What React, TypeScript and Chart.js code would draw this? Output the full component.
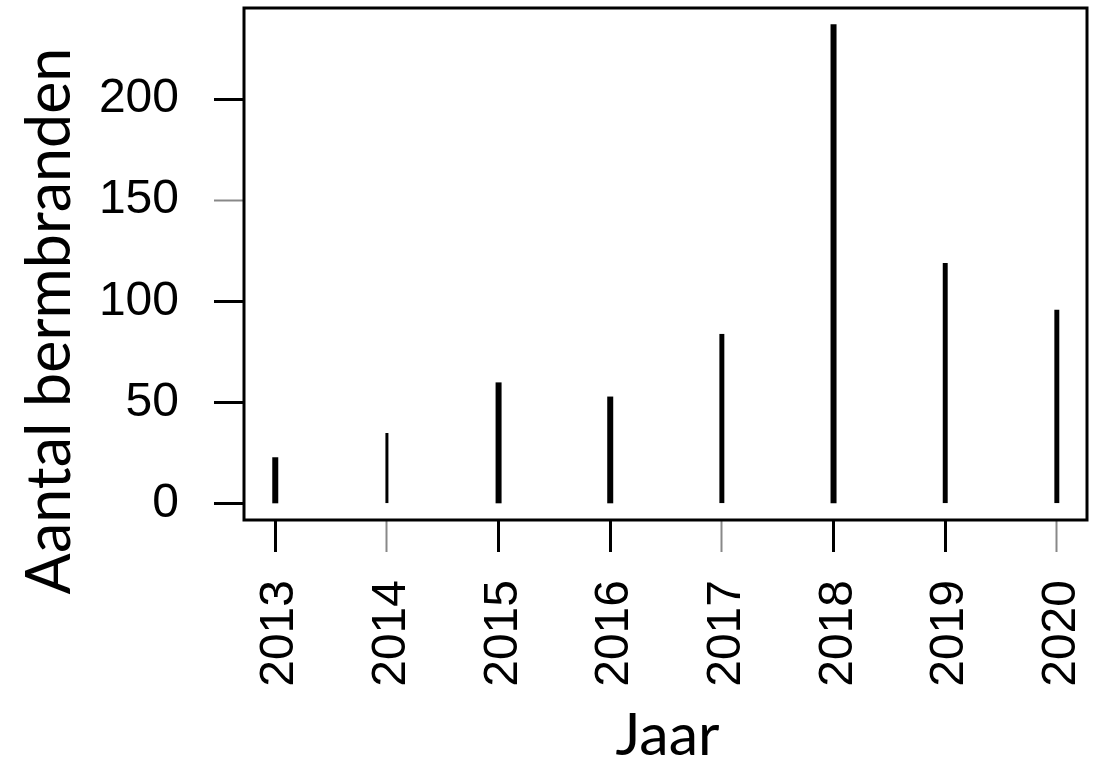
import React, { useEffect, useRef } from "react";
import { Chart, registerables } from "chart.js";

Chart.register(...registerables);

const years = [2013, 2014, 2015, 2016, 2017, 2018, 2019, 2020];
const fires = [23, 35, 60, 53, 84, 237, 119, 96];
const yTickValues = [0, 50, 100, 150, 200];
const xTitle = "Jaar";
const yTitle = "Aantal bermbranden";

const BAR_WIDTHS = [6, 3, 6, 6, 5, 6, 5, 5];
const GRAY_X = [2014, 2017, 2020];
const GRAY_Y = [150];

const boxAndTitles = {
  id: "boxAndTitles",
  afterDraw(chart: any) {
    const { ctx, chartArea } = chart;
    const { left, top, right, bottom } = chartArea;
    ctx.save();
    ctx.strokeStyle = "#000";
    ctx.lineWidth = 3;
    ctx.strokeRect(left, top, right - left, bottom - top);

    ctx.fillStyle = "#000";
    ctx.textAlign = "center";
    ctx.textBaseline = "alphabetic";
    ctx.font = "59px Lato";
    ctx.fillText(xTitle, (left + right) / 2 + 2, 755);

    ctx.font = "61px Lato";
    ctx.translate(70, 321);
    ctx.rotate(-Math.PI / 2);
    ctx.fillText(yTitle, 0, 0);
    ctx.restore();
  },
};

const zeroPad = (s: any) => {
  s.paddingTop = 0;
  s.paddingBottom = 0;
  s.paddingLeft = 0;
  s.paddingRight = 0;
};

export default function App() {
  const ref = useRef<HTMLCanvasElement | null>(null);

  useEffect(() => {
    if (!ref.current) return;
    const chart = new Chart(ref.current, {
      type: "bar",
      data: {
        datasets: [
          {
            data: years.map((y, i) => ({ x: y, y: fires[i] })),
            backgroundColor: "#000",
            borderColor: "#fff",
            borderWidth: (c: any) => {
              const w = BAR_WIDTHS[c.dataIndex] ?? 6;
              const s = (6 - w) / 2;
              return { left: s, right: s, top: 0, bottom: 0 };
            },
            borderSkipped: false,
            barThickness: 6,
            inflateAmount: 0,
          } as any,
        ],
      },
      options: {
        responsive: false,
        animation: false,
        devicePixelRatio: 1,
        layout: { padding: { top: 8, right: 14, left: 0, bottom: 0 } },
        plugins: {
          legend: { display: false },
          tooltip: { enabled: false },
        },
        scales: {
          x: {
            type: "linear",
            min: 2012.72,
            max: 2020.27,
            offset: false,
            afterBuildTicks: (s: any) => {
              s.ticks = years.map((v) => ({ value: v }));
            },
            afterFit: (s: any) => {
              s.height = 241;
              zeroPad(s);
            },
            border: { display: false },
            grid: {
              offset: false,
              drawOnChartArea: false,
              drawTicks: true,
              tickLength: 32,
              tickColor: (c: any) =>
                c.tick && GRAY_X.includes(c.tick.value) ? "#888" : "#000",
              tickWidth: (c: any) =>
                c.tick && GRAY_X.includes(c.tick.value) ? 2 : 3,
            },
            ticks: {
              autoSkip: false,
              maxRotation: 90,
              minRotation: 90,
              padding: 28,
              labelOffset: 5,
              color: "#000",
              font: { family: "'Liberation Sans', Arial, sans-serif", size: 48 },
              callback: (v: any) => String(v),
            },
          },
          y: {
            type: "linear",
            min: -8,
            max: 245,
            afterBuildTicks: (s: any) => {
              s.ticks = yTickValues.map((v) => ({ value: v }));
            },
            afterFit: (s: any) => {
              s.width = 244;
              zeroPad(s);
            },
            border: { display: false },
            grid: {
              drawOnChartArea: false,
              drawTicks: true,
              tickLength: 30,
              tickColor: (c: any) =>
                c.tick && GRAY_Y.includes(c.tick.value) ? "#888" : "#000",
              tickWidth: (c: any) =>
                c.tick && GRAY_Y.includes(c.tick.value) ? 2 : 3,
            },
            ticks: {
              padding: 35,
              color: "#000",
              font: { family: "'Liberation Sans', Arial, sans-serif", size: 48 },
              callback: (v: any) => String(v),
            },
          },
        },
      },
      plugins: [boxAndTitles],
    });
    return () => chart.destroy();
  }, []);

  return (
    <canvas
      ref={ref}
      width={1101}
      height={761}
      style={{ position: "fixed", left: 0, top: 0, width: 1101, height: 761, background: "#fff" }}
    />
  );
}
